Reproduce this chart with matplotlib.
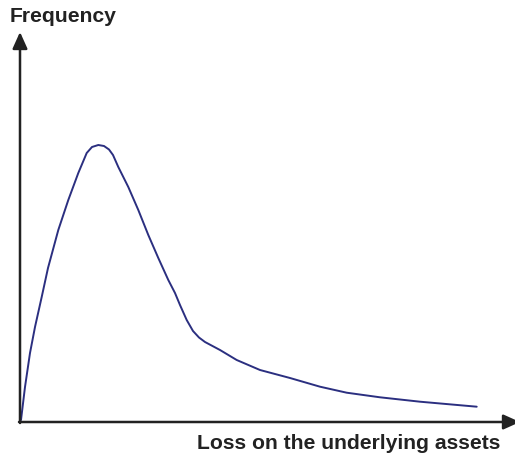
import matplotlib.pyplot as plt

plt.rcParams['font.family'] = ['Liberation Sans', 'DejaVu Sans']

# Loss on the underlying assets (horizontal) and frequency (vertical)
loss = [1, 5, 10, 15, 21.7, 28, 38.3, 48.3, 58.3, 66.7, 72, 78.3, 84, 89,
        93, 98.3, 108.3, 118.3, 128.3, 138.3, 148.3, 155, 160, 166.7, 173,
        179, 185, 200, 216.7, 240, 270, 300, 326.7, 360, 400, 456.7]
freq = [2, 35, 69, 95, 125, 154, 192, 222, 249, 269, 275, 277, 276, 272.5,
        267, 255, 235, 212, 187, 164, 142, 129, 117, 102, 91,
        84.5, 80, 72, 62, 52, 44, 35.3, 29.3, 24.7, 20.3, 15.3]

fig = plt.figure(figsize=(5.15, 4.58), dpi=100)
ax = fig.add_axes([20 / 515, 36 / 458, 495 / 515, 390 / 458])
ax.set_xlim(0, 495)
ax.set_ylim(0, 390)
ax.axis('off')

ax.plot(loss, freq, color='#2b2f80', lw=1.4, solid_joinstyle='round',
        solid_capstyle='round', clip_on=False)

# axes with arrow heads
axis_col = '#222222'
ax.annotate('', xy=(0, 390), xytext=(0, -1),
            arrowprops=dict(arrowstyle='-|>,head_length=1.0,head_width=0.45',
                            color=axis_col, lw=1.8, shrinkA=0, shrinkB=0),
            annotation_clip=False)
ax.annotate('', xy=(500, 0), xytext=(-1, 0),
            arrowprops=dict(arrowstyle='-|>,head_length=1.0,head_width=0.45',
                            color=axis_col, lw=1.8, shrinkA=0, shrinkB=0),
            annotation_clip=False)

fig.text(10 / 515, 1 - 22 / 458, 'Frequency', fontsize=15.2, fontweight='bold',
         color='#222222', ha='left', va='baseline')
fig.text(500 / 515, 1 - 449 / 458, 'Loss on the underlying assets', fontsize=15.2,
         fontweight='bold', color='#222222', ha='right', va='baseline')

fig.savefig('out.png', dpi=100)
